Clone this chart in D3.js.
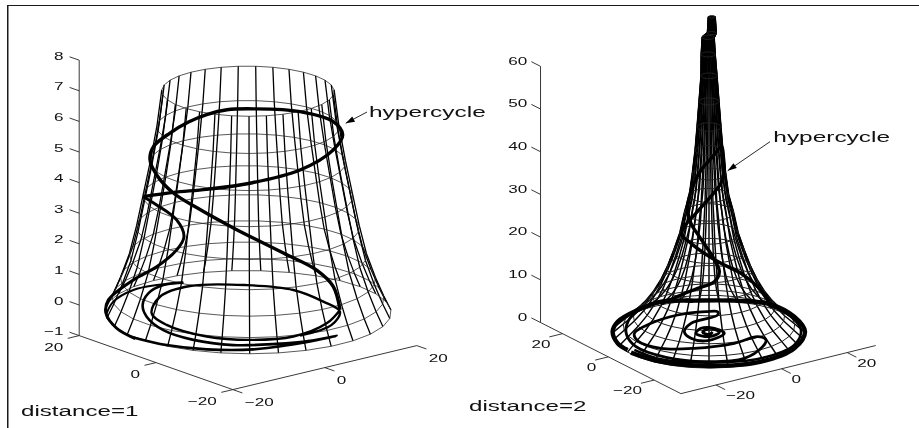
<!DOCTYPE html>
<html>
<head>
<meta charset="utf-8">
<title>hypercycle</title>
<script src="https://cdnjs.cloudflare.com/ajax/libs/d3/7.8.5/d3.min.js"></script>
<style>
body { margin: 0; background: #fff; }
svg { display: block; }
text { font-family: "Liberation Sans", Arial, sans-serif; fill: #111; }
</style>
</head>
<body>
<div id="chart"></div>
<script>
//surface rings
const leftRingZ = [7.15, 5.98, 4.83, 3.72, 2.71, 1.79, 1.01, 0.39, -0.07];
const leftRingR = [14.4, 15.2, 16.3, 17.5, 18.6, 19.8, 21.3, 22.7, 23.9];
const leftRingShift = [0, 0, 0, 0, 0, 0, 0, 0, 0];

const rightRingZ = [73.8, 70, 69, 65, 60, 54, 48, 42.5, 37, 32, 28, 23, 19, 15, 11.5, 8.5, 5.8, 3.5, 1.5, -0.5];
const rightRingR = [0.85, 1.1, 1.5, 1.75, 2.0, 2.5, 3.0, 3.5, 4.2, 4.95, 6.15, 7.35, 8.85, 10.5, 12.3, 14.25, 16.5, 18.9, 21.45, 24];
const rightRingShift = [0.7, 0.7, -0.2, -0.2, 0, 0, 0, 0, 0, 0, 0, 0, 0, 0, 0, 0, 0, 0, 0, 0];

//axis ticks
const leftZTicks = [-1, 0, 1, 2, 3, 4, 5, 6, 7, 8];
const rightZTicks = [0, 10, 20, 30, 40, 50, 60];
const floorTicks = [-20, 0, 20];

//hypercycle and the orbits running into it, in view coordinates (across, height)
const leftCycleH = [-17.44, -12.44, -6.89, 0.33, 8.67, 14.22, 15.78, 14.22, 8.67, 0.89, -3.5, -6.89, -10, -13, -15.78, -16.33, -15.22, -12.44, -8, -2.44, 5.89, 11.44, 14.22, 15.33];
const leftCycleV = [3.54, 3.68, 3.78, 3.98, 4.41, 5.07, 5.56, 5.99, 6.32, 6.41, 6.38, 6.22, 5.97, 5.62, 5.17, 4.74, 4.25, 3.66, 3.12, 2.52, 1.7, 1.14, 0.6, -0.16];
const leftLowH = [15.33, 13.11, 7.56, 0.33, -6.89, -13.56, -16.06, -14.67, -9.67, -0.22, 7.56, 12.56, 15.33, 13.94, 8.67];
const leftLowV = [-0.16, -0.6, -1.03, -1.14, -1.03, -0.65, -0.27, 0.27, 0.62, 0.65, 0.49, 0.11, -0.22, -0.65, -1.0];
const leftTailH = [-10.78, -14.11, -16.61, -17.56, -16.89, -14.11, -9.11, -2.44, 4.78, 10.33, 14.78, 8.67, 0.89, -6.89, -13.56, -19.11];
const leftTailV = [0.73, 0.65, 0.38, 0, -0.38, -0.82, -1.14, -1.31, -1.27, -1.17, -1.01, -1.25, -1.45, -1.45, -1.31, -1.06];
const leftRiseH = [-18.8, -21.89, -23.67, -23.28, -19.11, -15.22, -11.89, -10.67, -11.89, -15.22, -17.44];
const leftRiseV = [-1.1, -0.76, -0.27, 0.16, 0.82, 1.25, 1.8, 2.23, 2.78, 3.27, 3.54];
const leftArcH = [-23.56, -22.44, -19.11, -15.22, -10.78];
const leftArcV = [-0.27, 0.11, 0.49, 0.65, 0.73];

const rightRimH = [-13, -8, 0.33, 8.67, 14.22, 16, 14.22, 10.06, 4.22, -2.44, -8, -11.89, -15.22, -16.06, -15.22, -13.56];
const rightRimV = [-4.84, -6.95, -7.96, -6.95, -3.83, 0.08, 3.59, 6.56, 7.34, 7.34, 7.1, 5.15, 2.42, 0.08, -2.65, -4.2];
const rightBandH = [-12.44, -8, 0.33, 8.67, 14.22, 15.33, 13.67, 10.06];
const rightBandV = [-4.2, -6.4, -7.18, -6.17, -3.04, 0.47, 3.59, 6.32];
const rightCoilH = [-9.67, -12.44, -13.72, -13.72, -12.17, -7.17, -0.5, 5.89, 8.94, 9.5, 8.11, 4.22, -2.44, -8, -11.89, -12.44, -9.67, -5.22, -0.5, 1.44, 1.44, -3, -4.11, -3, -0.22, 2.56, 0.89, -1.33, -2.17, 0.06, 1.72, 0.06, -1.06, 0.06, 0.61];
const rightCoilV = [6.56, 4.37, 1.64, -0.7, -3.43, -5.93, -6.95, -6.17, -3.43, -1.87, -1.09, -2.65, -3.83, -3.83, -2.03, -0.31, 2.03, 3.98, 4.76, 4.76, 3.98, 2.03, 0.08, -1.48, -2.03, -0.31, 0.86, 0.86, -0.31, -1.09, -0.08, 0.86, -0.08, -0.55, 0];
const rightCycleH = [-8, -4.67, -1.89, 0.89, 1.72, 0.61, -1.61, -3, -3.56, -2.72, -1.33, 0.61, 2.1, 2.4, 2.5, 2, -0.22, -2.44, -4.11, -4.56, -3, -0.78, 2, 5.33, 8.11, 10.06];
const rightCycleV = [6.56, 8.67, 10.23, 11.79, 14.13, 17.64, 22.33, 25.45, 29.35, 34.04, 37.94, 41.06, 43.4, 41.06, 37.16, 34.82, 30.91, 27.4, 24.67, 22.87, 20.76, 18.42, 16.08, 13.74, 10.62, 7.1];

const width = 919, height = 428;
const meridianCount = 31;

const svg = d3.select("#chart").append("svg")
    .attr("width", width)
    .attr("height", height);

svg.append("rect").attr("width", width).attr("height", height).attr("fill", "#fff");

//the scan of the original is a little soft
svg.append("filter").attr("id", "soft")
    .attr("x", 0).attr("y", 0).attr("width", 1).attr("height", 1)
    .attr("color-interpolation-filters", "sRGB")
    .append("feGaussianBlur").attr("stdDeviation", 0.35);

const page = svg.append("g").attr("filter", "url(#soft)");

//frame, only top and left were kept in the original crop
page.append("path")
    .attr("d", d3.line()([[7.5, height], [7.5, 5], [width, 5]]))
    .attr("fill", "none")
    .attr("stroke", "#1a1a1a")
    .attr("stroke-width", 2);

//stretched text, the original was scaled wider than tall
function label(g, str, x, y, size, stretch, anchor) {
    g.append("text")
        .attr("transform", "translate(" + x + "," + y + ") scale(" + stretch + ",1)")
        .attr("font-size", size)
        .attr("text-anchor", anchor)
        .text(str);
}

function fmt(v) { return v < 0 ? "\u2212" + Math.abs(v) : String(v); }

function drawPanel(p) {
    const g = page.append("g");

    //3d projection, one scale per screen contribution
    const step = s => d3.scaleLinear().domain([-20, 20]).range([-s * 20, s * 20]);
    const xToSx = step(p.xStep[0]), yToSx = step(p.yStep[0]);
    const xToSy = step(p.xStep[1]), yToSy = step(p.yStep[1]);
    const zToSy = d3.scaleLinear().domain([0, 10]).range([p.baseY, p.baseY - p.zStep * 10]);
    const project = (x, y, z) => [p.cx + xToSx(x) + yToSx(y), zToSy(z) + xToSy(x) + yToSy(y)];

    //scales for the orbit, read in view coordinates
    const viewX = d3.scaleLinear().domain(p.viewXDomain).range([p.cx - p.viewXHalf, p.cx + p.viewXHalf]);
    const viewY = d3.scaleLinear().domain([0, 10]).range([p.viewBase, p.viewBase - p.zStep * 10]);

    const line = d3.line();
    const front = Math.atan2(p.yStep[1], p.xStep[1]);
    const angles = d3.range(meridianCount).map(i => front + i * 2 * Math.PI / meridianCount);
    const ringPoint = (k, a) => {
        const r = p.ringR[k], s = p.ringShift[k];
        const pt = project(r * Math.cos(a), r * Math.sin(a), p.ringZ[k]);
        return [pt[0] + viewX(s) - viewX(0), pt[1]];
    };

    //meridians
    g.append("g").selectAll("path")
        .data(angles)
        .enter().append("path")
        .attr("d", a => line(p.ringZ.map((z, k) => ringPoint(k, a))))
        .attr("fill", "none")
        .attr("stroke", "#000")
        .attr("stroke-width", p.meridianWidth);

    //rings
    g.append("g").selectAll("path")
        .data(p.ringZ.map((z, k) => k))
        .enter().append("path")
        .attr("d", k => line(angles.map(a => ringPoint(k, a))) + "Z")
        .attr("fill", "none")
        .attr("stroke", "#222")
        .attr("stroke-width", p.ringWidth);

    //orbit
    const orbit = d3.line()
        .x(d => viewX(d[0]))
        .y(d => viewY(d[1]))
        .curve(d3.curveCatmullRom.alpha(0.5));
    g.append("g").selectAll("path")
        .data(p.orbits)
        .enter().append("path")
        .attr("d", o => orbit(o.h.map((h, i) => [h, o.v[i]])))
        .attr("fill", "none")
        .attr("stroke", "#000")
        .attr("stroke-width", o => o.w);

    //axes
    const axisPath = pts => g.append("path")
        .attr("d", line(pts))
        .attr("fill", "none")
        .attr("stroke", "#222")
        .attr("stroke-width", 0.9);

    const [x0, x1] = p.xLim, [y0, y1] = p.yLim, zMin = p.zTicks[0], zMax = p.zTicks[p.zTicks.length - 1];
    axisPath([project(x0, y1, zMax), project(x0, y1, zMin), project(x0, y0, zMin), project(x1, y0, zMin)]);

    p.zTicks.forEach(t => {
        axisPath([project(x0, y1, t), project(x0, y1 + p.tickLen, t)]);
        const b = project(x0, y1 + p.tickLen, t);
        label(g, fmt(t), b[0] - p.zLabelGap, b[1] + 3, 11.5, 1.49, "end");
    });
    floorTicks.forEach(t => {
        axisPath([project(x0, t, zMin), project(x0 - p.tickLen, t, zMin)]);
        const a = project(x0, t, zMin);
        label(g, fmt(t), a[0] + p.yLabel[0], a[1] + p.yLabel[1], 11.5, 1.49, "end");

        axisPath([project(t, y0, zMin), project(t, y0 - p.tickLen, zMin)]);
        const c = project(t, y0, zMin);
        label(g, fmt(t), c[0] + p.xLabel[0], c[1] + p.xLabel[1], 11.5, 1.49, "start");
    });

    //annotation
    const [ax0, ay0, ax1, ay1] = p.arrow;
    const ang = Math.atan2(ay1 - ay0, ax1 - ax0);
    g.append("line")
        .attr("x1", ax0).attr("y1", ay0).attr("x2", ax1).attr("y2", ay1)
        .attr("stroke", "#111").attr("stroke-width", 0.9);
    g.append("path")
        .attr("transform", "translate(" + ax1 + "," + ay1 + ") rotate(" + ang * 180 / Math.PI + ")")
        .attr("d", "M0,0L-9,-3L-9,3Z")
        .attr("fill", "#000");
    label(g, "hypercycle", p.hyperAt[0], p.hyperAt[1], 15, 1.63, "start");
    label(g, p.title, p.titleAt[0], p.titleAt[1], 15, 1.61, "start");
}

drawPanel({
    cx: 248, baseY: 310, viewBase: 305, zStep: 30.6,
    xStep: [4.6, -1.1], yStep: [-3.84, -1.35],
    xLim: [-20, 20], yLim: [-20, 20], tickLen: 2.5,
    viewXDomain: [-24, 24], viewXHalf: 144,
    ringZ: leftRingZ, ringR: leftRingR, ringShift: leftRingShift,
    meridianWidth: 1.3, ringWidth: 0.75,
    zTicks: leftZTicks, zLabelGap: 6, yLabel: [-16, 15], xLabel: [12, 16],
    orbits: [
        {h: leftCycleH, v: leftCycleV, w: 3.4},
        {h: leftLowH, v: leftLowV, w: 2.4},
        {h: leftTailH, v: leftTailV, w: 2.6},
        {h: leftRiseH, v: leftRiseV, w: 3},
        {h: leftArcH, v: leftArcV, w: 2}
    ],
    arrow: [367, 112, 345.7, 123.3],
    hyperAt: [369, 117], title: "distance=1", titleAt: [21, 416]
});

drawPanel({
    cx: 709, baseY: 332, viewBase: 332, zStep: 4.27,
    xStep: [3.28, -0.81], yStep: [-2.29, -1.16],
    xLim: [-30.7, 28.7], yLim: [-31.7, 29.6], tickLen: 4,
    viewXDomain: [-16, 16], viewXHalf: 96,
    ringZ: rightRingZ, ringR: rightRingR, ringShift: rightRingShift.map(s => s / 1.5),
    meridianWidth: 1.45, ringWidth: 1,
    zTicks: rightZTicks, zLabelGap: 4, yLabel: [-12, 14], xLabel: [10, 14.5],
    orbits: [
        {h: rightRimH, v: rightRimV, w: 4.4},
        {h: rightBandH, v: rightBandV, w: 2.6},
        {h: rightCoilH, v: rightCoilV, w: 2.8},
        {h: rightCycleH, v: rightCycleV, w: 3.4}
    ],
    arrow: [770, 141.7, 727.7, 170.7],
    hyperAt: [773.3, 142], title: "distance=2", titleAt: [469, 411]
});
</script>
</body>
</html>
